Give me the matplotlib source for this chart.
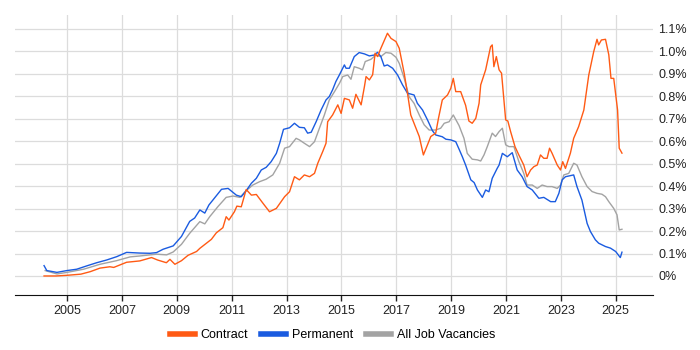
import numpy as np
import matplotlib
matplotlib.use('Agg')
import matplotlib.pyplot as plt
from matplotlib.ticker import FuncFormatter

plt.rcParams['font.family'] = ['Liberation Sans', 'DejaVu Sans']

# decimal years / percent values
contract_x = [2004.16, 2004.6, 2005.0, 2005.5, 2005.84, 2006.2, 2006.56, 2006.7, 2007.17, 2007.65,
              2008.08, 2008.3, 2008.62, 2008.75, 2008.93, 2009.17, 2009.41, 2009.72, 2009.84, 2010.26,
              2010.44, 2010.68, 2010.8, 2010.9, 2011.1, 2011.19, 2011.35, 2011.53, 2011.72, 2011.9,
              2012.14, 2012.38, 2012.63, 2012.93, 2013.11, 2013.29, 2013.47, 2013.65, 2013.84, 2014.02,
              2014.14, 2014.32, 2014.44, 2014.5, 2014.68, 2014.87, 2014.99, 2015.11, 2015.29, 2015.41,
              2015.53, 2015.72, 2015.84, 2015.9, 2016.02, 2016.14, 2016.23, 2016.32, 2016.44, 2016.68,
              2016.81, 2016.99, 2017.11, 2017.29, 2017.41, 2017.53, 2017.72, 2017.84, 2017.99, 2018.14,
              2018.26, 2018.44, 2018.54, 2018.68, 2018.87, 2018.99, 2019.08, 2019.17, 2019.35, 2019.53,
              2019.65, 2019.77, 2019.9, 2020.02, 2020.08, 2020.26, 2020.44, 2020.5, 2020.56, 2020.65,
              2020.75, 2020.84, 2020.99, 2021.07, 2021.17, 2021.33, 2021.47, 2021.65, 2021.77, 2021.9,
              2022.02, 2022.14, 2022.26, 2022.38, 2022.5, 2022.59, 2022.68, 2022.87, 2022.99, 2023.07,
              2023.17, 2023.35, 2023.47, 2023.65, 2023.84, 2024.02, 2024.2, 2024.32, 2024.38, 2024.48,
              2024.63, 2024.75, 2024.83, 2024.93, 2025.07, 2025.13, 2025.23]
contract_y = [0.0, 0.0, 0.003, 0.008, 0.019, 0.035, 0.041, 0.038, 0.061, 0.067,
              0.082, 0.071, 0.059, 0.074, 0.052, 0.068, 0.092, 0.109, 0.123, 0.163,
              0.192, 0.215, 0.264, 0.249, 0.286, 0.311, 0.308, 0.385, 0.36, 0.363,
              0.324, 0.286, 0.301, 0.353, 0.375, 0.442, 0.428, 0.45, 0.442, 0.457,
              0.502, 0.554, 0.591, 0.687, 0.717, 0.762, 0.724, 0.791, 0.784, 0.747,
              0.809, 0.762, 0.843, 0.888, 0.873, 0.896, 0.992, 0.977, 1.014, 1.081,
              1.058, 1.044, 1.014, 0.903, 0.814, 0.717, 0.658, 0.621, 0.539, 0.584,
              0.621, 0.636, 0.702, 0.784, 0.806, 0.836, 0.88, 0.821, 0.821, 0.76,
              0.69, 0.68, 0.702, 0.769, 0.851, 0.918, 1.021, 1.029, 0.932, 0.977,
              0.918, 0.903, 0.695, 0.69, 0.643, 0.576, 0.539, 0.494, 0.442, 0.472,
              0.487, 0.494, 0.539, 0.524, 0.524, 0.569, 0.547, 0.494, 0.472, 0.509,
              0.479, 0.547, 0.613, 0.665, 0.739, 0.895, 0.999, 1.054, 1.029, 1.051,
              1.054, 0.985, 0.88, 0.88, 0.739, 0.569, 0.547]

perm_x = [2004.16, 2004.26, 2004.63, 2004.99, 2005.35, 2005.72, 2006.08, 2006.44, 2006.81, 2007.17,
          2007.65, 2008.02, 2008.26, 2008.5, 2008.87, 2009.17, 2009.47, 2009.65, 2009.84, 2010.02,
          2010.17, 2010.63, 2010.87, 2011.17, 2011.35, 2011.53, 2011.72, 2011.9, 2012.08, 2012.26,
          2012.44, 2012.63, 2012.75, 2012.89, 2013.11, 2013.29, 2013.47, 2013.65, 2013.77, 2013.9,
          2014.08, 2014.26, 2014.44, 2014.56, 2014.68, 2014.8, 2014.93, 2015.11, 2015.17, 2015.29,
          2015.47, 2015.65, 2015.84, 2016.02, 2016.2, 2016.32, 2016.44, 2016.56, 2016.68, 2016.87,
          2017.05, 2017.23, 2017.41, 2017.65, 2017.77, 2017.96, 2018.14, 2018.32, 2018.44, 2018.68,
          2018.81, 2018.99, 2019.17, 2019.29, 2019.41, 2019.53, 2019.72, 2019.84, 2019.96, 2020.14,
          2020.26, 2020.38, 2020.5, 2020.68, 2020.75, 2020.87, 2021.05, 2021.23, 2021.41, 2021.59,
          2021.77, 2021.96, 2022.2, 2022.38, 2022.63, 2022.8, 2022.93, 2023.05, 2023.17, 2023.47,
          2023.59, 2023.77, 2023.96, 2024.08, 2024.26, 2024.38, 2024.63, 2024.81, 2025.0, 2025.17,
          2025.23]
perm_y = [0.046, 0.024, 0.016, 0.024, 0.03, 0.045, 0.059, 0.071, 0.086, 0.105,
          0.102, 0.101, 0.104, 0.119, 0.134, 0.176, 0.243, 0.258, 0.294, 0.28,
          0.316, 0.386, 0.39, 0.36, 0.353, 0.38, 0.413, 0.435, 0.472, 0.484,
          0.509, 0.546, 0.591, 0.653, 0.66, 0.68, 0.662, 0.66, 0.636, 0.64,
          0.687, 0.739, 0.784, 0.799, 0.829, 0.866, 0.896, 0.94, 0.925, 0.925,
          0.977, 0.995, 0.989, 0.98, 0.984, 0.996, 0.977, 0.935, 0.94, 0.925,
          0.895, 0.851, 0.814, 0.806, 0.769, 0.739, 0.695, 0.647, 0.628, 0.62,
          0.609, 0.606, 0.598, 0.565, 0.531, 0.494, 0.428, 0.416, 0.383, 0.35,
          0.383, 0.375, 0.435, 0.479, 0.494, 0.546, 0.531, 0.549, 0.472, 0.442,
          0.398, 0.383, 0.346, 0.35, 0.331, 0.331, 0.368, 0.428, 0.442, 0.45,
          0.398, 0.338, 0.234, 0.198, 0.161, 0.146, 0.131, 0.124, 0.109, 0.082,
          0.106]

all_x = [2004.2, 2004.63, 2005.0, 2005.6, 2006.2, 2006.8, 2007.3, 2007.65, 2008.26, 2008.63,
         2008.87, 2009.17, 2009.47, 2009.84, 2010.02, 2010.2, 2010.5, 2010.8, 2011.05, 2011.3,
         2011.53, 2011.77, 2012.02, 2012.26, 2012.5, 2012.75, 2012.93, 2013.11, 2013.35, 2013.47,
         2013.65, 2013.84, 2014.02, 2014.2, 2014.38, 2014.56, 2014.75, 2014.93, 2015.05, 2015.23,
         2015.35, 2015.47, 2015.65, 2015.77, 2015.87, 2016.08, 2016.26, 2016.44, 2016.62, 2016.81,
         2016.99, 2017.11, 2017.29, 2017.47, 2017.65, 2017.84, 2018.02, 2018.2, 2018.44, 2018.62,
         2018.75, 2018.93, 2019.08, 2019.29, 2019.47, 2019.59, 2019.77, 2019.96, 2020.08, 2020.2,
         2020.32, 2020.5, 2020.62, 2020.75, 2020.87, 2020.99, 2021.11, 2021.29, 2021.47, 2021.65,
         2021.77, 2021.96, 2022.14, 2022.32, 2022.5, 2022.68, 2022.87, 2022.99, 2023.11, 2023.29,
         2023.47, 2023.59, 2023.77, 2023.96, 2024.14, 2024.32, 2024.5, 2024.63, 2024.75, 2024.93,
         2025.05, 2025.13, 2025.23]
all_y = [0.024, 0.009, 0.016, 0.03, 0.052, 0.068, 0.085, 0.089, 0.097, 0.094,
         0.107, 0.141, 0.19, 0.242, 0.232, 0.264, 0.309, 0.35, 0.356, 0.35,
         0.38, 0.405, 0.42, 0.431, 0.45, 0.502, 0.569, 0.576, 0.613, 0.606,
         0.591, 0.576, 0.598, 0.658, 0.717, 0.784, 0.821, 0.858, 0.888, 0.895,
         0.876, 0.932, 0.925, 0.918, 0.955, 0.965, 0.984, 0.977, 0.995, 0.992,
         0.974, 0.947, 0.881, 0.798, 0.769, 0.717, 0.673, 0.65, 0.65, 0.658,
         0.68, 0.687, 0.717, 0.67, 0.613, 0.546, 0.52, 0.517, 0.512, 0.539,
         0.576, 0.636, 0.621, 0.643, 0.658, 0.584, 0.576, 0.576, 0.51, 0.457,
         0.405, 0.405, 0.39, 0.405, 0.398, 0.398, 0.39, 0.405, 0.45, 0.457,
         0.502, 0.494, 0.442, 0.398, 0.376, 0.368, 0.364, 0.353, 0.331, 0.301,
         0.272, 0.205, 0.208]

year_ticks = [2005, 2007, 2009, 2011, 2013, 2015, 2017, 2019, 2021, 2023, 2025]
pct_ticks = [0.0, 0.1, 0.2, 0.3, 0.4, 0.5, 0.6, 0.7, 0.8, 0.9, 1.0, 1.1]

fig = plt.figure(figsize=(7, 3.5), dpi=100)
ax = fig.add_axes([0.0214, 0.157, 0.911, 0.8])

ax.plot(all_x, all_y, color='#a3a3a3', lw=1.0, label='All Job Vacancies', zorder=3)
ax.plot(perm_x, perm_y, color='#1a5be0', lw=1.0, label='Permanent', zorder=4)
ax.plot(contract_x, contract_y, color='#ff5a14', lw=1.0, label='Contract', zorder=5)

ax.set_xlim(2003.1, 2026.35)
ax.set_ylim(-0.085, 1.162)
ax.set_xticks(year_ticks)
ax.set_xticklabels([str(y) for y in year_ticks])
ax.set_yticks(pct_ticks)
ax.yaxis.set_major_formatter(FuncFormatter(lambda v, p: '0%' if v == 0 else f'{v:.1f}%'))
ax.yaxis.tick_right()
ax.tick_params(axis='y', length=0, pad=4, labelsize=9, colors='#222222')
ax.tick_params(axis='x', length=4, width=1, labelsize=9, colors='#222222', pad=3)
ax.grid(True, color='#dcdcdc', lw=0.9)
ax.set_axisbelow(True)
for s in ['top', 'right', 'left']:
    ax.spines[s].set_visible(False)
ax.spines['bottom'].set_color('#111111')

h, l = ax.get_legend_handles_labels()
order = [2, 1, 0]
leg = fig.legend([h[i] for i in order], [l[i] for i in order], loc='center',
                 bbox_to_anchor=(0.475, 0.043), ncol=3, frameon=False, fontsize=9,
                 handlelength=2.0, handletextpad=0.5, columnspacing=1.0)
for line in leg.get_lines():
    line.set_linewidth(4)

plt.savefig('out.png', dpi=100)
